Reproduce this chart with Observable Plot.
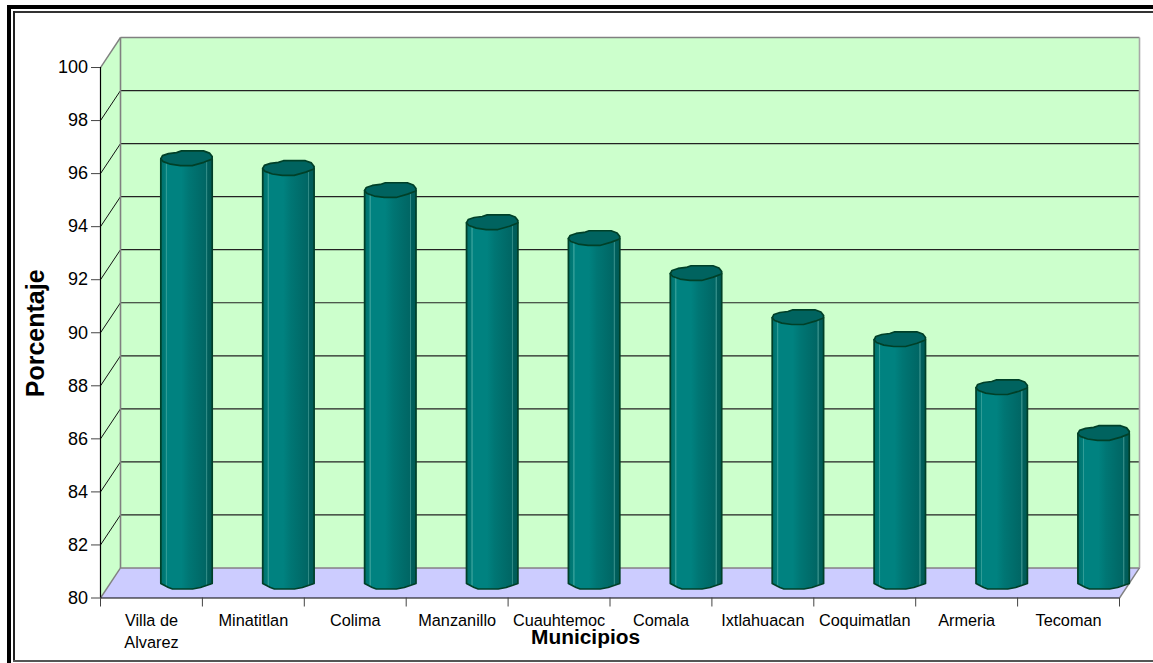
<!DOCTYPE html>
<html>
<head>
<meta charset="utf-8">
<script src="https://cdn.jsdelivr.net/npm/d3@7"></script>
<script src="https://cdn.jsdelivr.net/npm/@observablehq/plot@0.6"></script>
<style>
html,body{margin:0;padding:0;background:#fff}
#wrap{position:relative;width:1153px;height:663px;overflow:hidden}
#wrap svg{position:absolute;left:0;top:0}
.f{position:absolute;z-index:2}
</style>
</head>
<body>
<div id="wrap">
<div class="f" style="left:7px;top:5px;width:1146px;height:4px;background:#000"></div>
<div class="f" style="left:7px;top:5px;width:4px;height:658px;background:#000"></div>
<div class="f" style="left:13px;top:11px;width:1140px;height:2px;background:#333"></div>
<div class="f" style="left:13px;top:11px;width:2px;height:650px;background:#222"></div>
<div class="f" style="left:13px;top:660px;width:1140px;height:2px;background:#555"></div>
</div>
<script>
const municipios = ["Villa de\nAlvarez","Minatitlan","Colima","Manzanillo","Cuauhtemoc","Comala","Ixtlahuacan","Coquimatlan","Armeria","Tecoman"];
const porcentajes = [96.0,95.63,94.8,93.59,92.99,91.67,90.01,89.18,87.37,85.64];
const yTicks = [80,82,84,86,88,90,92,94,96,98,100];
const xEdges = [0,1,2,3,4,5,6,7,8,9,10];

// 3D projection of the chart box, in scale units
const pxX = 101.9, pxY = 26.5;
const depthX = 20 / pxX, depthY = 30 / pxY;
const barOffset = 0.844;
const midDepth = 15 / pxY;

// Cylinder outline templates (offsets in pixels from the centre of each end)
const capShape = [[-25.7,.3],[-24,-3],[-18,-5],[-10,-6],[-5,-7.7],[17,-7.7],[23,-5.5],[25.7,-2],[25.5,.5],[17.3,3.7],[5.7,7],[-6,7],[-16,5.6],[-23.3,3]];
const baseShape = [[25.7,.5],[14,4.5],[6,6],[-14,6],[-18,4.5],[-25.7,.5]];

const rows = municipios.map((m,i)=>({m,i,v:porcentajes[i]+midDepth,cx:i+barOffset}));
const bodies = rows.flatMap(r=>[
  {k:r.m,x:r.cx-25.7/pxX,y:r.v},
  {k:r.m,x:r.cx+25.7/pxX,y:r.v},
  ...baseShape.map(([dx,dy])=>({k:r.m,x:r.cx+dx/pxX,y:80+midDepth-dy/pxY}))
]);
const caps = rows.flatMap(r=>capShape.map(([dx,dy])=>({k:r.m,x:r.cx+dx/pxX,y:r.v-dy/pxY})));

const wallSide = [[0,80],[depthX,80+depthY],[depthX,100+depthY],[0,100]].map(([x,y])=>({x,y}));
const floor = [[0,80],[10,80],[10+depthX,80+depthY],[depthX,80+depthY]].map(([x,y])=>({x,y}));

const grid = yTicks.filter(v=>v>80&&v<100);
const ends = [80,100];

const plot = Plot.plot({
  width:1153, height:663,
  marginLeft:100, marginRight:14, marginTop:37, marginBottom:65.5,
  style:{background:"#fff",fontFamily:"'Liberation Sans',Arial,sans-serif",color:"#000",overflow:"visible"},
  x:{type:"linear",domain:[0,10+depthX]},
  y:{type:"linear",domain:[80,100+depthY]},
  marks:[
    Plot.rect([0],{x1:depthX,x2:10+depthX,y1:80+depthY,y2:100+depthY,fill:"#ccffcc"}),
    Plot.line(wallSide,{x:"x",y:"y",fill:"#ccffcc",stroke:"none",curve:"linear-closed"}),
    Plot.line(floor,{x:"x",y:"y",fill:"#ccccff",stroke:"none",curve:"linear-closed"}),
    // gridlines on the back wall and side wall
    Plot.link(grid,{x1:depthX,x2:10+depthX,y1:d=>d+depthY,y2:d=>d+depthY,stroke:"#222",strokeWidth:1.2}),
    Plot.link(grid,{x1:0,x2:depthX,y1:d=>d,y2:d=>d+depthY,stroke:"#111",strokeWidth:1}),
    // box edges
    Plot.link(ends,{x1:depthX,x2:10+depthX,y1:d=>d+depthY,y2:d=>d+depthY,stroke:"#808080",strokeWidth:1.6}),
    Plot.link(ends,{x1:0,x2:depthX,y1:d=>d,y2:d=>d+depthY,stroke:"#808080",strokeWidth:1.4}),
    Plot.link([0],{x1:depthX,x2:depthX,y1:80+depthY,y2:100+depthY,stroke:"#808080",strokeWidth:1.6}),
    Plot.link([0],{x1:10+depthX,x2:10+depthX,y1:80+depthY,y2:100+depthY,stroke:"#a8a8a8",strokeWidth:1.6}),
    Plot.link([0],{x1:10,x2:10+depthX,y1:80,y2:80+depthY,stroke:"#808080",strokeWidth:1.4}),
    // cylinders
    Plot.line(bodies,{x:"x",y:"y",z:"k",fill:"url(#cyl)",stroke:"#004028",strokeWidth:1.7,curve:"linear-closed"}),
    Plot.line(caps,{x:"x",y:"y",z:"k",fill:"#00635f",stroke:"#004028",strokeWidth:1.7,curve:"linear-closed"}),
    // axes
    Plot.ruleX([0],{y1:80,y2:100,stroke:"#000",strokeWidth:1.2}),
    Plot.ruleY([80],{x1:0,x2:10,stroke:"#000",strokeWidth:1.2}),
    Plot.axisY({ticks:yTicks,tickSize:9,tickPadding:3.5,fontSize:18,label:null,stroke:"#444"}),
    Plot.axisX({ticks:xEdges,tickSize:9,tickFormat:()=>"",label:null,stroke:"#444"}),
    Plot.text(rows,{x:d=>d.i+0.5,y:80,text:"m",dy:12,fontSize:16.3,lineHeight:1.35,lineAnchor:"top",fill:"#000",textAnchor:"middle"}),
    // axis titles
    Plot.text(["Municipios"],{x:4.76,y:80,dy:39.5,text:d=>d,fontSize:20.9,fontWeight:"bold",lineAnchor:"middle",fill:"#000"}),
    Plot.text(["Porcentaje"],{x:-0.63,y:89.98,text:d=>d,rotate:-90,fontSize:25,fontWeight:"bold",lineAnchor:"middle",fill:"#000"})
  ]
});

// gradient for the cylinder walls
const grad = d3.select(plot).append("defs").append("linearGradient")
  .attr("id","cyl").attr("x1","0").attr("x2","1").attr("y1","0").attr("y2","0");
[[0,"#00605c"],[.03,"#007470"],[.09,"#007c78"],[.1,"#2f9c96"],[.115,"#2f9c96"],[.125,"#008280"],[.4,"#008280"],[.55,"#007674"],[.75,"#006c6a"],[.875,"#006664"],[.885,"#2f8a85"],[.9,"#2f8a85"],[.91,"#005f5c"],[1,"#005a56"]]
  .forEach(([o,c])=>grad.append("stop").attr("offset",o).attr("stop-color",c));

document.getElementById("wrap").appendChild(plot);
</script>
</body>
</html>
